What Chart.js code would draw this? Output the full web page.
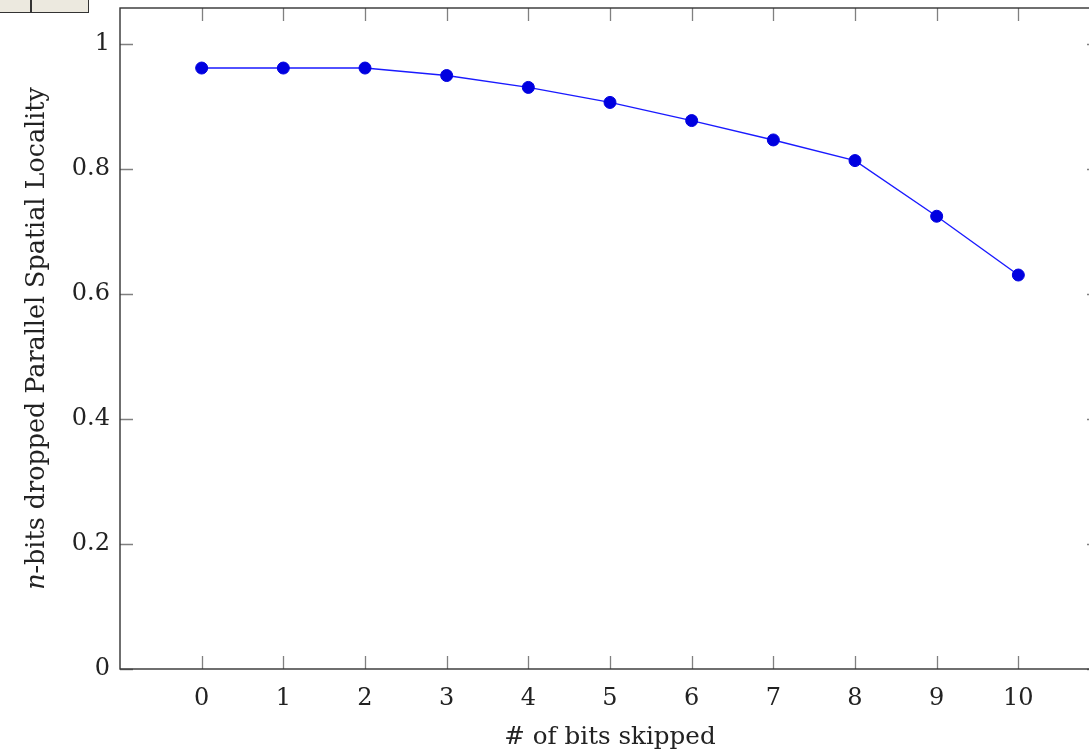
<!DOCTYPE html>
<html>
<head>
<meta charset="utf-8">
<script src="https://cdn.jsdelivr.net/npm/chart.js@4/dist/chart.umd.min.js"></script>
<style>
  html, body { margin: 0; padding: 0; overflow: hidden; background: #fff; }
  #wrap { position: absolute; left: 0; top: 0; width: 1130px; height: 755px; }
  #tab { position: absolute; left: -4px; top: -4px; width: 93px; height: 17px; background: #ECE9DF; border: 1.5px solid #333; box-sizing: border-box; }
  #tab div { position: absolute; left: 33px; top: 0; width: 1.5px; height: 100%; background: #333; }
</style>
</head>
<body>
<div id="wrap"><canvas id="c" width="1130" height="755"></canvas></div>
<div id="tab"><div></div></div>
<script>
const bitsSkipped = [0, 1, 2, 3, 4, 5, 6, 7, 8, 9, 10];
const locality = [0.961, 0.961, 0.961, 0.949, 0.930, 0.906, 0.877, 0.846, 0.813, 0.724, 0.630];
const xTicks = [0, 1, 2, 3, 4, 5, 6, 7, 8, 9, 10];
const yTicks = [0, 0.2, 0.4, 0.6, 0.8, 1];
const xTitle = '# of bits skipped';
const yTitleItalic = 'n';
const yTitleRest = '-bits dropped Parallel Spatial Locality';

const FONT = "'DejaVu Serif', 'Liberation Serif', serif";
const FS = 24;
const TFS = 25.4;

const framePlugin = {
  id: 'frame',
  afterDraw(chart) {
    const ctx = chart.ctx;
    const a = chart.chartArea;
    const xs = chart.scales.x, ys = chart.scales.y;
    const TL = 13;
    ctx.save();
    ctx.strokeStyle = '#808080';
    ctx.lineWidth = 1.3;
    ctx.beginPath();
    xs.ticks.forEach(t => {
      const px = Math.round(xs.getPixelForValue(t.value)) + 0.5;
      ctx.moveTo(px, a.bottom); ctx.lineTo(px, a.bottom - TL);
      ctx.moveTo(px, a.top); ctx.lineTo(px, a.top + TL);
    });
    ys.ticks.forEach(t => {
      const py = Math.round(ys.getPixelForValue(t.value)) + 0.5;
      ctx.moveTo(a.left, py); ctx.lineTo(a.left + TL, py);
      ctx.moveTo(a.right, py); ctx.lineTo(a.right - TL, py);
    });
    ctx.stroke();
    ctx.strokeStyle = '#333';
    ctx.lineWidth = 1.4;
    ctx.strokeRect(a.left, a.top, a.right - a.left, a.bottom - a.top);
    ctx.fillStyle = '#222';
    ctx.textBaseline = 'middle';
    ctx.translate(37, (a.top + a.bottom) / 2);
    ctx.rotate(-Math.PI / 2);
    ctx.font = 'italic ' + TFS + 'px ' + FONT;
    const w1 = ctx.measureText(yTitleItalic).width;
    ctx.font = TFS + 'px ' + FONT;
    const w2 = ctx.measureText(yTitleRest).width;
    const x0 = -(w1 + w2) / 2;
    ctx.textAlign = 'left';
    ctx.font = 'italic ' + TFS + 'px ' + FONT;
    ctx.fillText(yTitleItalic, x0, 0);
    ctx.font = TFS + 'px ' + FONT;
    ctx.fillText(yTitleRest, x0 + w1, 0);
    ctx.restore();
  }
};

new Chart(document.getElementById('c'), {
  type: 'line',
  data: {
    datasets: [{
      data: bitsSkipped.map((x, i) => ({ x: x, y: locality[i] })),
      borderColor: '#1a1aff',
      borderWidth: 1.4,
      backgroundColor: '#0000e0',
      pointBackgroundColor: '#0000e0',
      pointBorderColor: '#0000e0',
      pointRadius: 6,
      pointBorderWidth: 1,
      tension: 0,
      fill: false
    }]
  },
  options: {
    responsive: false,
    animation: false,
    events: [],
    layout: { padding: { left: 0, top: 8, right: 30, bottom: 0 } },
    plugins: { legend: { display: false }, tooltip: { enabled: false }, title: { display: false } },
    scales: {
      x: {
        type: 'linear',
        min: -1, max: 11,
        grid: { display: false, drawTicks: false },
        border: { display: false },
        afterBuildTicks: s => { s.ticks = xTicks.map(v => ({ value: v })); },
        afterFit: s => { s.height = 86; s.paddingLeft = 0; s.paddingRight = 0; },
        ticks: {
          autoSkip: false, maxRotation: 0, padding: 15, color: '#222',
          font: { family: FONT, size: FS },
          callback: v => String(v)
        },
        title: {
          display: true, text: xTitle, color: '#222',
          font: { family: FONT, size: 24.6 },
          padding: { top: 0, bottom: 3 }
        }
      },
      y: {
        type: 'linear',
        min: 0, max: 1.057,
        grid: { display: false, drawTicks: false },
        border: { display: false },
        afterBuildTicks: s => { s.ticks = yTicks.map(v => ({ value: v })); },
        afterFit: s => { s.width = 120; s.paddingTop = 0; s.paddingBottom = 0; },
        ticks: {
          autoSkip: false, padding: 10, color: '#222',
          font: { family: FONT, size: FS },
          callback: v => String(v)
        }
      }
    }
  },
  plugins: [framePlugin]
});
</script>
</body>
</html>
